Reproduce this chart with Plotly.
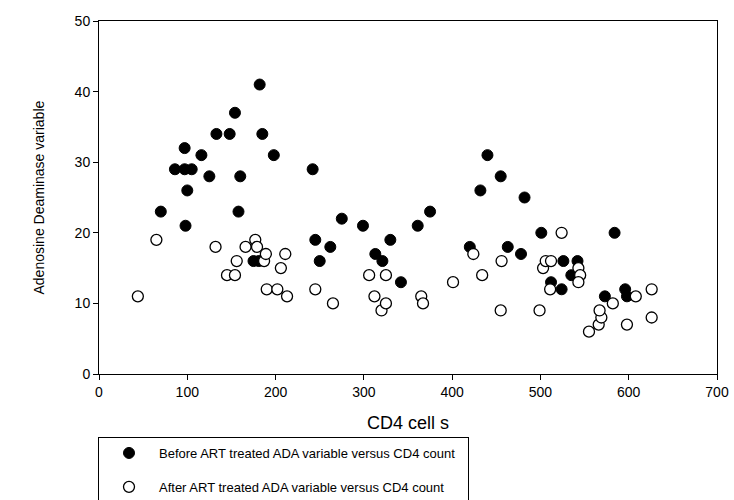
import plotly.graph_objects as go

# Before ART (filled)
before_cd4 = [70, 86, 97, 105, 97, 98, 100, 116, 125, 133, 148, 154, 158, 160, 175, 181, 182, 185,
              198, 242, 245, 250, 262, 275, 299, 313, 321, 330, 342, 361, 375, 420, 432, 440, 455,
              463, 478, 482, 501, 512, 524, 526, 535, 542, 573, 584, 596, 598]
before_ada = [23, 29, 29, 29, 32, 21, 26, 31, 28, 34, 34, 37, 23, 28, 16, 16, 41, 34,
              31, 29, 19, 16, 18, 22, 21, 17, 16, 19, 13, 21, 23, 18, 26, 31, 28,
              18, 17, 25, 20, 13, 12, 16, 14, 16, 11, 20, 12, 11]

# After ART (open)
after_cd4 = [44, 65, 132, 145, 154, 156, 166, 177, 179, 187, 189, 190, 202, 206, 211, 213, 245, 265,
             306, 312, 320, 325, 325, 365, 367, 401, 424, 434, 455, 456, 499, 503, 506, 512, 511,
             524, 543, 545, 543, 555, 566, 569, 567, 582, 598, 608, 626, 626]
after_ada = [11, 19, 18, 14, 14, 16, 18, 19, 18, 16, 17, 12, 12, 15, 17, 11, 12, 10,
             14, 11, 9, 14, 10, 11, 10, 13, 17, 14, 9, 16, 9, 15, 16, 16, 12,
             20, 15, 14, 13, 6, 7, 8, 9, 10, 7, 11, 12, 8]

x_ticks = [0, 100, 200, 300, 400, 500, 600, 700]
y_ticks = [0, 10, 20, 30, 40, 50]

FONT = "Liberation Sans, Arial, sans-serif"
PAD = "\u00a0\u00a0"

fig = go.Figure()
fig.add_trace(go.Scatter(
    x=before_cd4, y=before_ada, mode="markers",
    name="Before ART treated ADA variable versus CD4 count" + PAD,
    legendgroup="a",
    marker=dict(symbol="circle", size=11, color="black", line=dict(color="black", width=1)),
))
fig.add_trace(go.Scatter(
    x=after_cd4, y=after_ada, mode="markers",
    name="After ART treated ADA variable versus CD4 count" + PAD,
    legendgroup="b",
    marker=dict(symbol="circle", size=11, color="white", line=dict(color="black", width=1.3)),
))

fig.update_layout(
    width=734, height=500,
    margin=dict(l=99, r=17, t=21, b=126, autoexpand=False),
    paper_bgcolor="white", plot_bgcolor="white",
    font=dict(family=FONT, color="black", size=14),
    showlegend=True,
    legend=dict(
        x=98 / 734, y=1 - 437 / 500, xref="container", yref="container",
        xanchor="left", yanchor="top",
        bordercolor="black", borderwidth=1, bgcolor="white",
        font=dict(family=FONT, size=13, color="black"),
        tracegroupgap=14,
        itemwidth=50,
    ),
    xaxis=dict(
        range=[0, 700], tickvals=x_ticks, ticktext=[str(v) for v in x_ticks],
        showgrid=False, zeroline=False,
        showline=True, linecolor="black", linewidth=1, mirror=True,
        ticks="outside", ticklen=5, tickcolor="black",
        tickfont=dict(size=14),
        title=dict(text="CD4 cell s", font=dict(size=18), standoff=17),
    ),
    yaxis=dict(
        range=[0, 50], tickvals=y_ticks, ticktext=[str(v) for v in y_ticks],
        showgrid=False, zeroline=False,
        showline=True, linecolor="black", linewidth=1, mirror=True,
        ticks="outside", ticklen=5, tickcolor="black",
        tickfont=dict(size=14),
    ),
    annotations=[dict(
        text="Adenosine Deaminase variable", textangle=-90,
        xref="paper", yref="paper", x=0, y=0.5, xshift=-61,
        xanchor="center", yanchor="middle", showarrow=False,
        font=dict(family=FONT, size=14, color="black"),
    )],
)

fig.write_html(
    "out.html",
    config={"displayModeBar": False},
    post_script="document.body.style.margin='0';document.body.style.overflow='hidden';",
)
